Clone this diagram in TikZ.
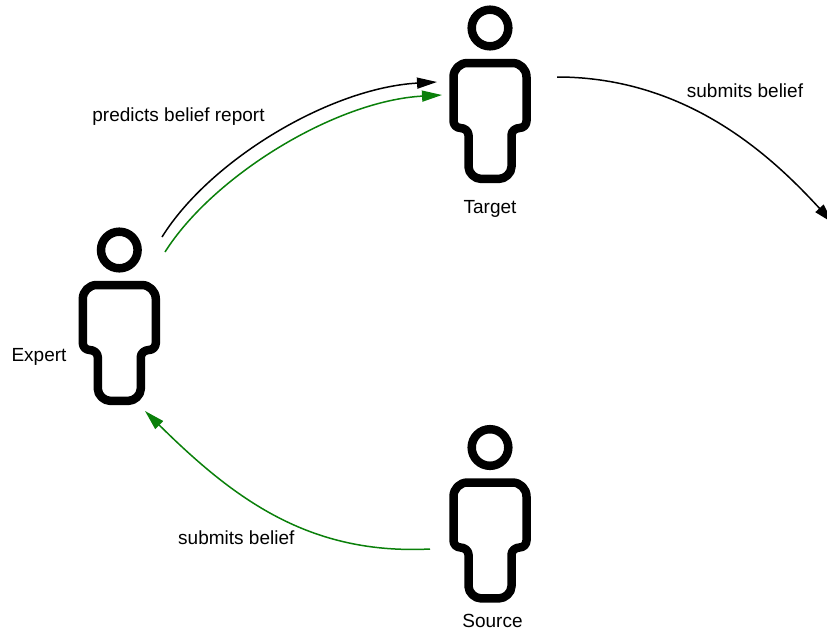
\documentclass[tikz,border=0pt]{standalone}
\usepackage{fontspec}
\setmainfont{Liberation Sans}
\usetikzlibrary{arrows.meta}
\definecolor{arrgreen}{RGB}{10,128,10}
\tikzset{
  lbl/.style={font=\fontsize{19}{23}\selectfont, inner sep=0pt, anchor=base},
  conn/.style={line width=1.5pt, -{Triangle[length=20pt,width=11pt]}},
  person/.pic={
    \draw[line width=8.5pt] (0,0) circle[radius=18.3];
    \draw[line width=8.5pt, line join=round]
      (0,35) -- (22.5,35)
      .. controls (30.23,35) and (36.5,41.27) .. (36.5,49)
      -- (36.5,93)
      .. controls (36.5,96.9) and (33.4,100) .. (29.5,100)
      .. controls (25.6,100) and (21.5,103.1) .. (21.5,107)
      -- (21.5,138.8)
      .. controls (21.5,145.43) and (14.87,150.8) .. (9.5,150.8)
      -- (-9.5,150.8)
      .. controls (-14.87,150.8) and (-21.5,145.43) .. (-21.5,138.8)
      -- (-21.5,107)
      .. controls (-21.5,103.1) and (-25.6,100) .. (-29.5,100)
      .. controls (-33.4,100) and (-36.5,96.9) .. (-36.5,93)
      -- (-36.5,49)
      .. controls (-36.5,41.27) and (-30.23,35) .. (-22.5,35)
      -- cycle;
  }
}
\begin{document}
\begin{tikzpicture}[x=1pt,y=-1pt]
\useasboundingbox (0,0) rectangle (827,632);
\clip (0,0) rectangle (827,632);
\fill[white] (0,0) rectangle (827,632);

% persons
\pic (target) at (490,28) {person};
\pic (expert) at (119.3,250) {person};
\pic (source) at (490,447.5) {person};

% labels
\node[lbl] (targetlbl) at (490,213) {Target};
\node[lbl] (expertlbl) at (39,361.7) {Expert};
\node[lbl] (sourcelbl) at (492.5,627.5) {Source};
\node[lbl] (predlbl) at (178.5,121.7) {predicts belief report};
\node[lbl] (sub1lbl) at (745,97.5) {submits belief};
\node[lbl] (sub2lbl) at (236.3,544) {submits belief};

% connector end points
\coordinate (expBlk) at (162,237);
\coordinate (tgtBlk) at (437,82);
\coordinate (expGrn) at (165,252);
\coordinate (tgtGrn) at (442,95);
\coordinate (tgtOut) at (557,77);
\coordinate (offRight) at (833,223);
\coordinate (srcOut) at (430,549);
\coordinate (expIn) at (145,411);

% connectors
\draw[conn] (expBlk) .. controls (210,160) and (330,88) .. (tgtBlk);
\draw[conn, arrgreen] (expGrn) .. controls (213,176) and (335,101) .. (tgtGrn);
\draw[conn] (tgtOut) .. controls (690,77) and (775,160) .. (offRight);
\draw[conn, arrgreen] (srcOut) .. controls (310,555) and (235,500) .. (expIn);
\end{tikzpicture}
\end{document}
